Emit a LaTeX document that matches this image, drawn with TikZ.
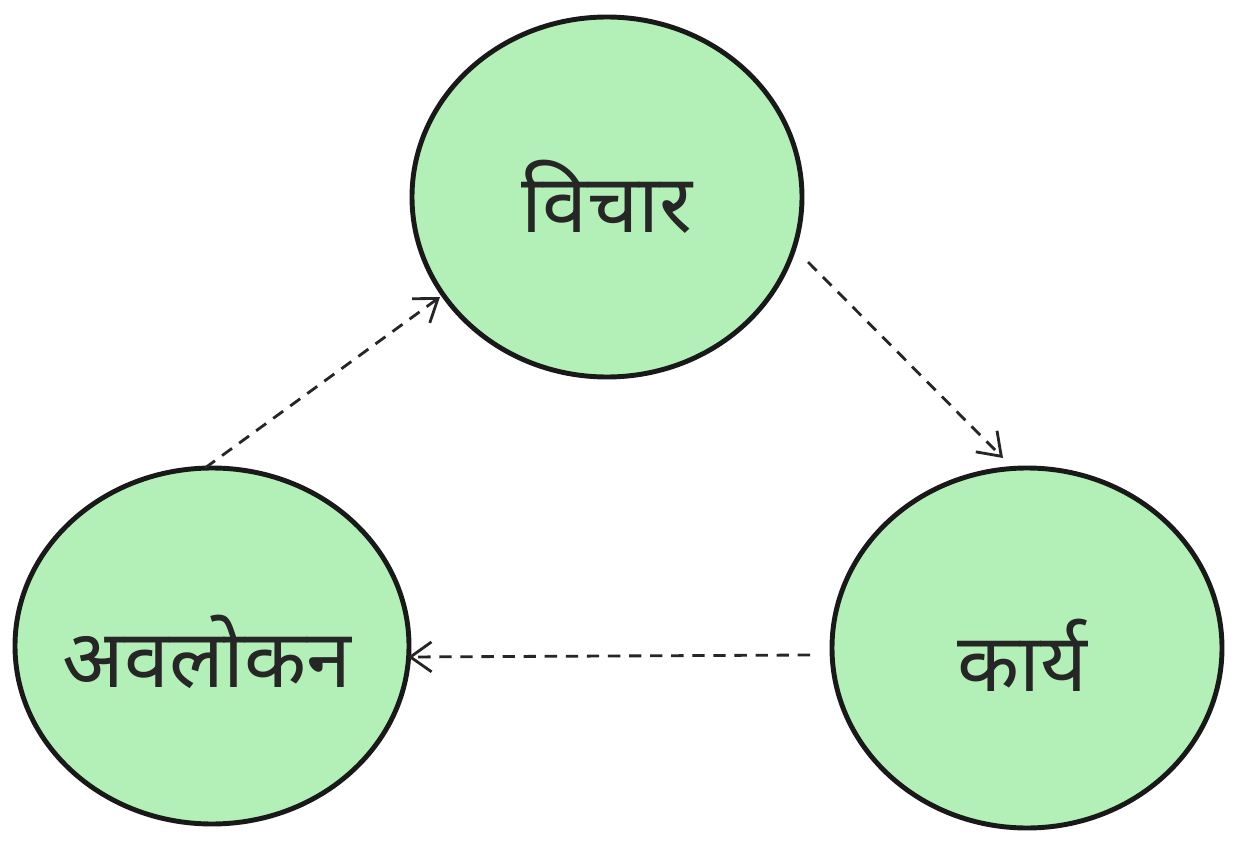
\documentclass[tikz,border=0pt]{standalone}
\usepackage{fontspec}
\setmainfont[Script=Devanagari]{Noto Sans}
\usetikzlibrary{arrows.meta}
\definecolor{cfill}{HTML}{B3F0B8}
\begin{document}
\begin{tikzpicture}[x=0.02cm,y=-0.02cm,
  blob/.style={black!90,line width=2.8pt,fill=cfill},
  lbl/.style={font=\fontsize{46}{50}\selectfont,text=black!85},
  conn/.style={draw=black!85,line width=1.6pt,dash pattern=on 7pt off 5pt,-{Straight Barb[length=12pt,width=17pt]}}]
\useasboundingbox (0,0) rectangle (1235,848);
\fill[white] (0,0) rectangle (1235,848);
\draw[blob] (607,197) ellipse [x radius=195,y radius=180];
\draw[blob] (212,646) ellipse [x radius=197,y radius=178];
\draw[blob] (1027,648) ellipse [x radius=195,y radius=180];
\node[lbl] (a) at (607,197) {विचार};
\node[lbl] (b) at (1022,655) {कार्य};
\node[lbl] (c) at (207,652) {अवलोकन};
\coordinate (a1) at (808,262); \coordinate (b1) at (1003,458);
\coordinate (b2) at (810,655); \coordinate (c2) at (408,657);
\coordinate (c3) at (205,468); \coordinate (a3) at (440,297);
\draw[conn] (a1) -- (b1);
\draw[conn] (b2) -- (c2);
\draw[conn] (c3) -- (a3);
\end{tikzpicture}
\end{document}
